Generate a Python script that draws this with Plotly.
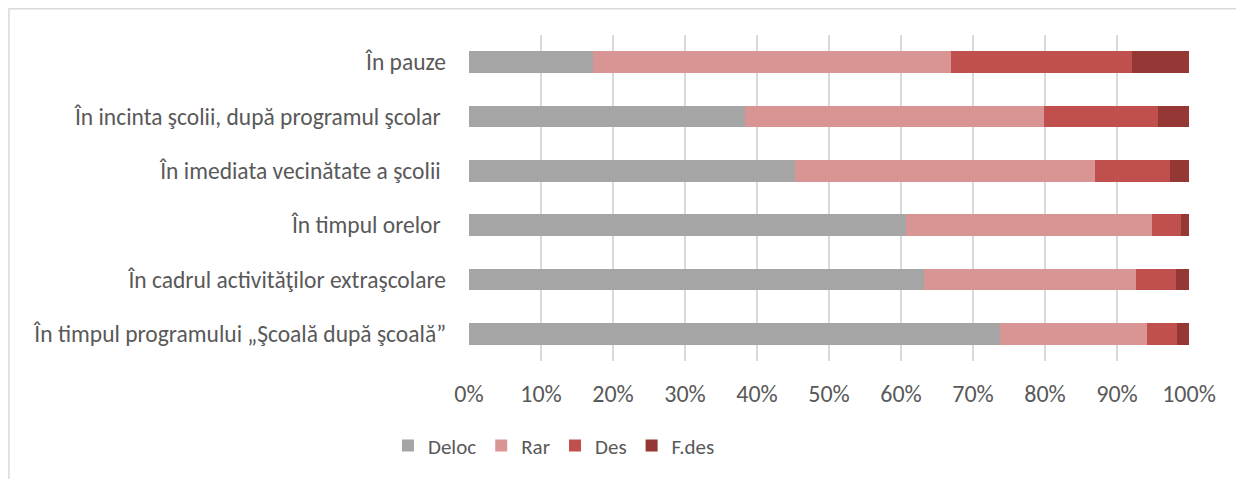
import plotly.graph_objs as go

# categories, top to bottom as shown
locuri = [
    "În pauze",
    "În incinta şcolii, după programul şcolar ",
    "În imediata vecinătate a şcolii ",
    "În timpul orelor ",
    "În cadrul activităţilor extraşcolare",
    "În timpul programului „Şcoală după şcoală”",
]

# shares (%)
deloc = [17.2, 38.3, 45.3, 60.7, 63.2, 73.7]
rar = [49.8, 41.5, 41.6, 34.2, 29.5, 20.4]
des = [25.1, 15.9, 10.5, 4.0, 5.5, 4.2]
f_des = [7.9, 4.3, 2.6, 1.1, 1.8, 1.7]

x_ticks = [0, 10, 20, 30, 40, 50, 60, 70, 80, 90, 100]
x_tick_labels = [f"{v}%" for v in x_ticks]

series = [
    ("Deloc", deloc, "#A5A5A5"),
    ("Rar", rar, "#D99594"),
    ("Des", des, "#C0504D"),
    ("F.des", f_des, "#953735"),
]

font_family = "Calibri, Carlito, 'Open Sans', sans-serif"
text_color = "#595959"

fig = go.Figure()
for name, vals, color in series:
    fig.add_trace(go.Bar(
        y=locuri, x=vals, name=name, orientation="h",
        marker=dict(color=color, line=dict(width=0)),
    ))

# page body has an 8px margin, so the figure is a bit smaller and offset
fig.update_layout(
    barmode="stack",
    bargap=0.6,
    width=1236, height=471,
    margin=dict(l=461, r=55, t=27, b=118),
    paper_bgcolor="white",
    plot_bgcolor="white",
    font=dict(family=font_family, size=23.5, color=text_color),
    showlegend=True,
    legend=dict(
        orientation="h", traceorder="normal",
        x=0.118, xanchor="center", y=-0.26, yanchor="middle",
        font=dict(size=21, color=text_color), itemwidth=30,
    ),
)

fig.update_xaxes(
    range=[0, 100], tickvals=x_ticks, ticktext=x_tick_labels,
    tickfont=dict(size=24),
    showgrid=True, gridcolor="#D9D9D9", gridwidth=1.5,
    zeroline=False, showline=False, ticks="", ticklabelstandoff=16,
    fixedrange=True,
)
fig.update_yaxes(
    autorange="reversed", showgrid=False, zeroline=False, showline=False,
    ticks="", ticklabelstandoff=22, fixedrange=True,
)

# chart frame (left and top edges visible in the crop)
fig.add_shape(
    type="rect", xref="paper", yref="paper",
    x0=-0.639, x1=1.09, y0=-0.40, y1=1.0805,
    line=dict(color="#D9D9D9", width=1.5), fillcolor="rgba(0,0,0,0)",
    layer="below",
)

fig.write_html("out.html")
